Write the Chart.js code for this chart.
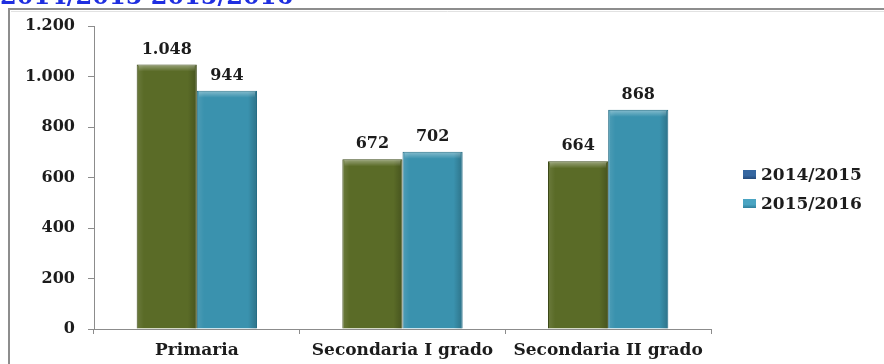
<!DOCTYPE html>
<html>
<head>
<meta charset="utf-8">
<script src="https://cdn.jsdelivr.net/npm/chart.js@4.4.1/dist/chart.umd.min.js"></script>
<style>
  html, body { margin: 0; padding: 0; background: #fff; }
  #wrap { width: 884px; height: 364px; position: relative; overflow: hidden; }
  canvas { display: block; }
</style>
</head>
<body>
<div id="wrap"><canvas id="chart" width="884" height="364"></canvas></div>
<script>
// Iscritti per ordine di scuola, due anni scolastici a confronto
const categories = ['Primaria', 'Secondaria I grado', 'Secondaria II grado'];
const seriesNames = ['2014/2015', '2015/2016'];
const values20142015 = [1048, 672, 664];
const values20152016 = [944, 702, 868];
const yTickValues = [0, 200, 400, 600, 800, 1000, 1200];
const headingText = '2014/2015 2015/2016';

const barColors = ['#5a6b27', '#3a92ae'];
const barBorders = ['#3a4716', '#246c84'];
const legendColors = ['#3566a0', '#4aa4c2'];
const legendShades = ['#244a7a', '#2f7f9c'];

const SERIF = '"DejaVu Serif", "Liberation Serif", serif';

// thousands separator with a dot, as in Italian
function fmt(n) {
  return String(n).replace(/\B(?=(\d{3})+(?!\d))/g, '.');
}

// white page, grey frame on the left and top, blue heading partly above the frame
const framePlugin = {
  id: 'frame',
  beforeDraw(chart) {
    const ctx = chart.ctx;
    ctx.save();
    ctx.fillStyle = '#ffffff';
    ctx.fillRect(0, 0, chart.width, chart.height);
    ctx.fillStyle = '#1f2fe0';
    ctx.font = 'bold 24px ' + SERIF;
    ctx.textAlign = 'left';
    ctx.textBaseline = 'alphabetic';
    ctx.fillText(headingText, 0, 3.5);
    ctx.strokeStyle = '#8d8d8d';
    ctx.lineWidth = 2;
    ctx.beginPath();
    ctx.moveTo(9, chart.height);
    ctx.lineTo(9, 9);
    ctx.lineTo(chart.width, 9);
    ctx.stroke();
    ctx.strokeStyle = '#e2e2e2';
    ctx.lineWidth = 1;
    ctx.beginPath();
    ctx.moveTo(11, 11.5);
    ctx.lineTo(chart.width, 11.5);
    ctx.stroke();
    ctx.restore();
  }
};

// bevel shading on each bar and the value label above it
const barDecorPlugin = {
  id: 'barDecor',
  afterDatasetsDraw(chart) {
    const ctx = chart.ctx;
    ctx.save();
    chart.data.datasets.forEach((ds, di) => {
      const meta = chart.getDatasetMeta(di);
      meta.data.forEach((bar, i) => {
        const left = bar.x - bar.width / 2;
        const right = bar.x + bar.width / 2;
        const top = bar.y;
        const bottom = bar.base;
        const g = ctx.createLinearGradient(left, 0, right, 0);
        g.addColorStop(0, 'rgba(255,255,255,0.10)');
        g.addColorStop(0.12, 'rgba(255,255,255,0.0)');
        g.addColorStop(0.85, 'rgba(0,0,0,0.0)');
        g.addColorStop(1, 'rgba(0,0,0,0.22)');
        ctx.fillStyle = g;
        ctx.fillRect(left + 1, top + 1, right - left - 2, bottom - top - 1);
        const t = ctx.createLinearGradient(0, top, 0, top + 7);
        t.addColorStop(0, 'rgba(255,255,255,0.40)');
        t.addColorStop(1, 'rgba(255,255,255,0.0)');
        ctx.fillStyle = t;
        ctx.fillRect(left + 2, top + 1, right - left - 4, 7);

        ctx.fillStyle = '#1c1c1c';
        ctx.font = 'bold 16px ' + SERIF;
        ctx.textAlign = 'center';
        ctx.textBaseline = 'middle';
        ctx.fillText(fmt(ds.data[i]), bar.x, top - 15);
      });
    });
    ctx.restore();
  }
};

// legend on the right, beside the plot
const sideLegendPlugin = {
  id: 'sideLegend',
  afterDraw(chart) {
    const ctx = chart.ctx;
    const area = chart.chartArea;
    ctx.save();
    ctx.font = 'bold 17px ' + SERIF;
    ctx.textAlign = 'left';
    ctx.textBaseline = 'middle';
    const x0 = area.right + 32;
    const yMid = 189;
    const gap = 29;
    chart.data.datasets.forEach((ds, di) => {
      const y = yMid + (di - (chart.data.datasets.length - 1) / 2) * gap;
      const g = ctx.createLinearGradient(0, y - 4.5, 0, y + 4.5);
      g.addColorStop(0, legendColors[di]);
      g.addColorStop(0.6, legendColors[di]);
      g.addColorStop(1, legendShades[di]);
      ctx.fillStyle = g;
      ctx.fillRect(x0, y - 4.5, 13, 9);
      ctx.fillStyle = '#1c1c1c';
      ctx.fillText(ds.label, x0 + 18, y + 1);
    });
    ctx.restore();
  }
};

new Chart(document.getElementById('chart'), {
  type: 'bar',
  data: {
    labels: categories,
    datasets: [
      { label: seriesNames[0], data: values20142015, backgroundColor: barColors[0], borderColor: barBorders[0], borderWidth: 1 },
      { label: seriesNames[1], data: values20152016, backgroundColor: barColors[1], borderColor: barBorders[1], borderWidth: 1 }
    ]
  },
  options: {
    responsive: false,
    devicePixelRatio: 1,
    animation: false,
    categoryPercentage: 0.585,
    barPercentage: 1.0,
    layout: { padding: { top: 26, right: 173, bottom: 0, left: 0 } },
    plugins: {
      legend: { display: false },
      tooltip: { enabled: false },
      title: { display: false }
    },
    scales: {
      x: {
        border: { display: true, color: '#8c8c8c', width: 1 },
        grid: { display: true, drawOnChartArea: false, drawTicks: true, tickLength: 5, color: '#8c8c8c', offset: true },
        ticks: { color: '#1c1c1c', font: { family: SERIF, weight: 'bold', size: 17 }, padding: 6, maxRotation: 0, autoSkip: false },
        afterFit(scale) { scale.height = 35; }
      },
      y: {
        min: 0,
        max: 1200,
        border: { display: true, color: '#8c8c8c', width: 1 },
        grid: { display: true, drawOnChartArea: false, drawTicks: true, tickLength: 6, color: '#8c8c8c' },
        afterBuildTicks(scale) { scale.ticks = yTickValues.map(v => ({ value: v })); },
        ticks: { color: '#1c1c1c', font: { family: SERIF, weight: 'bold', size: 16 }, padding: 13, callback: v => fmt(v) },
        afterFit(scale) { scale.width = 94; }
      }
    }
  },
  plugins: [framePlugin, barDecorPlugin, sideLegendPlugin]
});
</script>
</body>
</html>
